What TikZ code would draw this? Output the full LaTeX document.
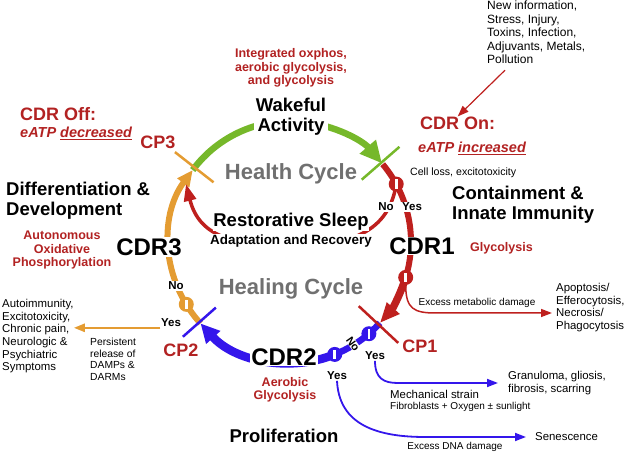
\documentclass[tikz,border=0pt]{standalone}
\usepackage{fontspec}
\setmainfont{Liberation Sans}
\usetikzlibrary{arrows.meta,positioning,backgrounds}
\definecolor{cdrred}{RGB}{190,32,30}
\definecolor{txtred}{RGB}{178,34,34}
\definecolor{cdrgreen}{RGB}{118,184,42}
\definecolor{cdrorange}{RGB}{228,156,50}
\definecolor{cdrblue}{RGB}{52,22,235}
\definecolor{cyclegray}{RGB}{112,112,112}
\tikzstyle{stage} = [font=\bfseries\fontsize{24}{26}\selectfont, fill=white, inner sep=1pt]
\tikzstyle{phaselbl} = [font=\bfseries\fontsize{18.5}{20}\selectfont, align=left, inner sep=0pt]
\tikzstyle{cyclename} = [font=\bfseries\fontsize{22}{24}\selectfont, text=cyclegray]
\tikzstyle{metab} = [font=\bfseries\fontsize{12.5}{13.5}\selectfont, text=txtred, align=center, inner sep=0pt]
\tikzstyle{cdrsw} = [font=\bfseries\fontsize{18}{20}\selectfont, text=txtred, inner sep=0pt]
\tikzstyle{eatp} = [font=\bfseries\itshape\fontsize{14.5}{16}\selectfont, text=txtred, inner sep=0pt]
\tikzstyle{cpoint} = [font=\bfseries\fontsize{18}{20}\selectfont, text=txtred, inner sep=0pt]
\tikzstyle{outcome} = [font=\fontsize{11.4}{12.7}\selectfont, align=left, inner sep=0pt]
\tikzstyle{cause} = [font=\fontsize{10}{11.6}\selectfont, align=left, inner sep=0pt]
\tikzstyle{yn} = [font=\bfseries\fontsize{11.5}{12}\selectfont, fill=white, inner sep=0.6pt]
\tikzstyle{valve} = [circle, minimum size=15pt, inner sep=0pt, path picture={\fill[white] ([xshift=-1.3pt,yshift=-4.8pt]path picture bounding box.center) rectangle ([xshift=1.3pt,yshift=4.8pt]path picture bounding box.center);}]
\tikzstyle{arrow} = [line width=1.5pt, -{Triangle[length=11pt,width=8pt]}]
\tikzstyle{cptick} = [line width=2.5pt]
\begin{document}
\begin{tikzpicture}[x=1pt,y=-1pt]
\useasboundingbox (0,0) rectangle (625,454);

% points on the big circle (angles run clockwise)
\coordinate (o) at (290,242);
\path (o) ++(-143.5:121) coordinate (cp3)
      (o) ++(-40:121) coordinate (onpt)
      (o) ++(-28.6:121) coordinate (rv1pt)
      (o) ++(17:121) coordinate (rv2pt)
      (o) ++(42:121) coordinate (cp1)
      (o) ++(49.3:121) coordinate (bv1pt)
      (o) ++(68.3:121) coordinate (bv2pt)
      (o) ++(137.7:121) coordinate (cp2)
      (o) ++(149:121) coordinate (ovpt);
\coordinate (sleepend) at (186,184);
\coordinate (metbend) at (436,313);
\coordinate (metend) at (552,313);
\coordinate (granbend) at (398,383);
\coordinate (senbend) at (425,437);

% top and right
\node[outcome, font=\fontsize{12}{13.5}\selectfont, anchor=north west] (newinfo) at (487,1) {New information,\\Stress, Injury,\\Toxins, Infection,\\Adjuvants, Metals,\\Pollution};
\node[cdrsw, anchor=west] (cdron) at (420,123) {CDR On:};
\node[eatp, anchor=west] (eatpon) at (418,148) {eATP \underline{increased}};
\node[cause, font=\fontsize{10.6}{12}\selectfont, anchor=west] (cellloss) at (410,173) {Cell loss, excitotoxicity};
\node[phaselbl, anchor=north west] (contain) at (452,186) {Containment \&\\Innate Immunity};
\node[metab, anchor=west] (glyco1) at (470,248) {Glycolysis};
\node[stage] (cdr1) at (422,246) {CDR1};
\node[outcome, anchor=north west] (apopt) at (556,283) {Apoptosis/\\Efferocytosis,\\Necrosis/\\Phagocytosis};
\node[cause] (metdmg) at (477,303) {Excess metabolic damage};
\node[cpoint] (cp1lbl) at (420,346) {CP1};

% bottom
\node[outcome, anchor=west] (granul) at (508,383) {Granuloma, gliosis,\\fibrosis, scarring};
\node[outcome, anchor=west] (mech) at (390,394) {Mechanical strain};
\node[cause, anchor=west] (fibro) at (390,407) {Fibroblasts + Oxygen ± sunlight};
\node[outcome, anchor=west] (senesc) at (535,437) {Senescence};
\node[cause] (dnadmg) at (455,447) {Excess DNA damage};
\node[phaselbl] (prolif) at (284,436) {Proliferation};
\node[metab] (aerob) at (285,390) {Aerobic\\Glycolysis};
\node[stage] (cdr2) at (284,357) {CDR2};

% inside the circle
\node[cyclename] (healing) at (291,289) {Healing Cycle};
\node[phaselbl, fill=white] (sleep) at (291,222) {Restorative Sleep};
\node[font=\bfseries\fontsize{13.4}{15}\selectfont, fill=white, inner sep=1pt] (adapt) at (291,241) {Adaptation and Recovery};
\node[cyclename] (health) at (291,174) {Health Cycle};
\node[phaselbl, align=center, fill=white, inner sep=2pt] (wake) at (291,117) {Wakeful\\Activity};
\node[metab] (integ) at (291,68) {Integrated oxphos,\\aerobic glycolysis,\\and glycolysis};

% left
\node[cdrsw, anchor=west] (cdroff) at (20,114) {CDR Off:};
\node[eatp, anchor=west] (eatpoff) at (20,133) {eATP \underline{decreased}};
\node[cpoint] (cp3lbl) at (158,142) {CP3};
\node[phaselbl, anchor=north west] (diff) at (6,182) {Differentiation \&\\Development};
\node[metab] (auton) at (62,250) {Autonomous\\Oxidative\\Phosphorylation};
\node[stage] (cdr3) at (149,247) {CDR3};
\node[outcome, anchor=north west] (autoimm) at (2,299) {Autoimmunity,\\Excitotoxicity,\\Chronic pain,\\Neurologic \&\\Psychiatric\\Symptoms};
\node[cause, font=\fontsize{10.3}{11.6}\selectfont, anchor=north west] (persist) at (90,338) {Persistent\\release of\\DAMPs \&\\DARMs};
\node[cpoint] (cp2lbl) at (181,350) {CP2};

% valves
\node[valve, fill=cdrred] (rv1) at (rv1pt) {};
\node[valve, fill=cdrred] (rv2) at (rv2pt) {};
\node[valve, fill=cdrblue] (bv1) at (bv1pt) {};
\node[valve, fill=cdrblue] (bv2) at (bv2pt) {};
\node[valve, fill=cdrorange] (ov) at (ovpt) {};

% yes / no
\node[yn] (ono) at (176,286) {No};
\node[yn] (oyes) at (171,323) {Yes};
\node[yn] (rno) at (386,207) {No};
\node[yn] (ryes) at (412,207) {Yes};
\node[yn, font=\bfseries\fontsize{11}{12}\selectfont, inner sep=0.3pt, rotate=-55] (bno) at (353,344) {No};
\node[yn] (byes1) at (375,356) {Yes};
\node[yn] (byes2) at (337,376) {Yes};

% the cycle
\begin{scope}[on background layer]
\draw[line width=6.5pt, cdrgreen, -{Triangle[length=22pt,width=20pt]}] (cp3) arc[start angle=-143.5, end angle=-40.5, radius=121];
\draw[line width=6pt, cdrred] (onpt) arc[start angle=-40, end angle=17, radius=121];
\draw[line width=7.5pt, cdrred, -{Triangle[length=20pt,width=16pt]}] (rv2pt) arc[start angle=17, end angle=42, radius=121];
\draw[line width=6.5pt, cdrblue] (cp1) arc[start angle=42, end angle=68.3, radius=121];
\draw[line width=8.5pt, cdrblue, -{Triangle[length=19pt,width=18pt]}] (bv2pt) arc[start angle=68.3, end angle=137.7, radius=121];
\draw[line width=6pt, cdrorange, -{Triangle[length=16pt,width=14pt]}] (cp2) arc[start angle=137.7, end angle=216.5, radius=121];
\draw[line width=3.5pt, cdrred, -{Triangle[length=17pt,width=12pt]}] (rv1pt) .. controls (388,238) and (340,246) .. (290,245) .. controls (240,245) and (200,240) .. (sleepend);
\end{scope}

% check points
\draw[cptick, cdrgreen] (o) ++(-41:95) -- ++(-41:50);
\draw[cptick, cdrorange] (o) ++(-142:97) -- ++(-142:49);
\draw[cptick, cdrred] (o) ++(43:94) -- ++(43:54);
\draw[cptick, cdrblue] (o) ++(138.5:99) -- ++(138.5:44);

% side branches
\draw[arrow, cdrred, line width=1.2pt] ([xshift=18pt,yshift=-6pt]newinfo.south west) -- (cdron.north);
\draw[arrow, cdrred] (rv2.south) .. controls +(0,24) and +(-22,0) .. (metbend) -- (metend);
\draw[arrow, cdrblue, line width=1.8pt] (byes1.south) .. controls +(0,18) and +(-14,0) .. (granbend) -- ([xshift=-10pt]granul.west);
\draw[arrow, cdrblue, line width=1.8pt] (byes2.south) .. controls +(2,40) and +(-55,0) .. (senbend) -- ([xshift=-9pt]senesc.west);
\draw[arrow, cdrorange, line width=2.4pt] (oyes.south west) -- (oyes.south west -| autoimm.east);
\end{tikzpicture}
\end{document}
